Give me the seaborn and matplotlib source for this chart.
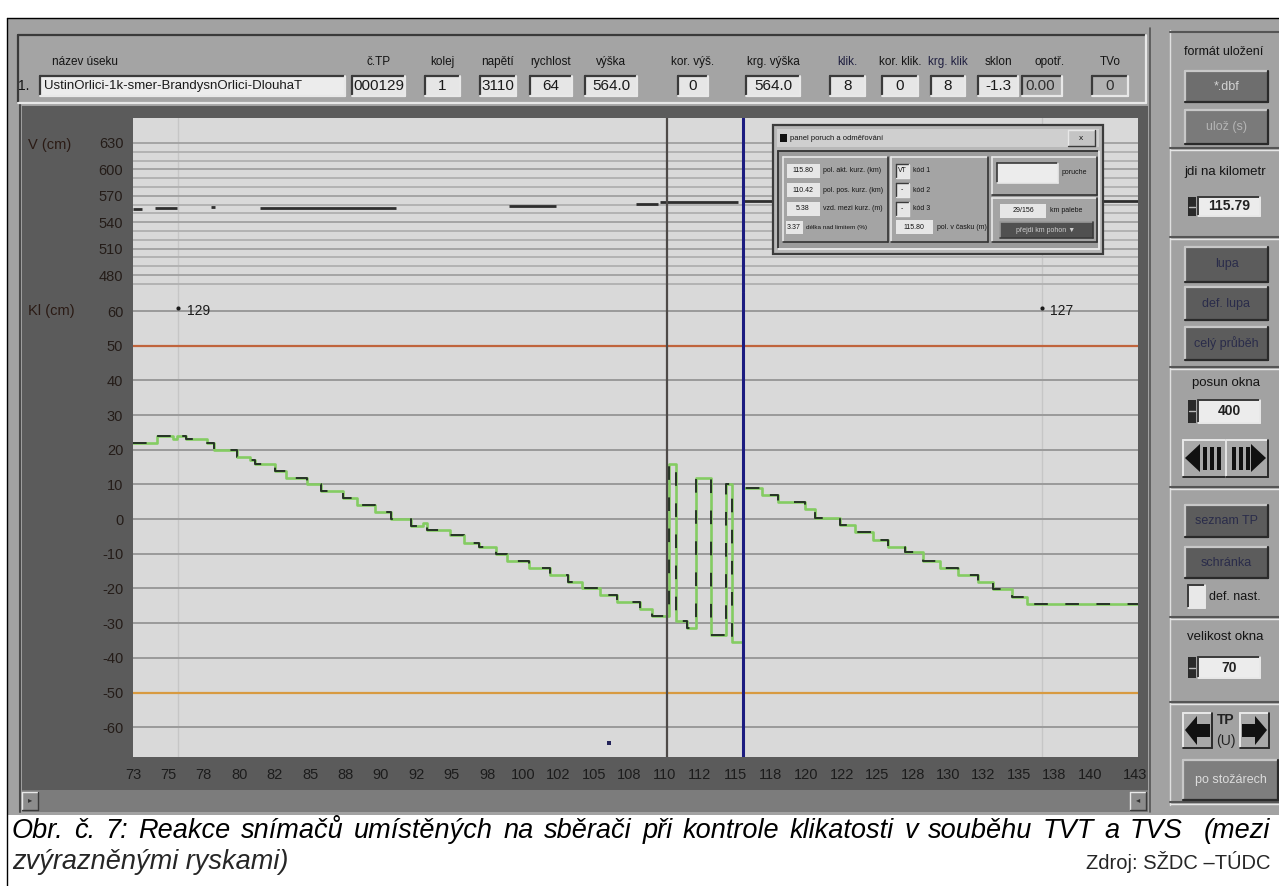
import matplotlib
matplotlib.use("Agg")
import matplotlib.pyplot as plt
import seaborn as sns
from matplotlib import font_manager
from matplotlib.patches import Rectangle, Polygon

# ---------------- hodnoty odečtené ze snímku ----------------
# klikatost Kl (cm), schodovitý průběh: začátek schodu v km
kl_km = [72.5, 74.19, 75.32, 75.61, 76.24, 77.72, 78.22, 79.84, 80.76, 81.11,
         82.52, 83.30, 84.78, 85.77, 87.32, 88.31, 89.58, 90.71, 92.12, 92.97,
         93.25, 94.87, 95.86, 96.92, 98.12, 98.89, 100.45, 101.93, 103.2, 104.19,
         105.46, 106.66, 108.3, 109.13,
         110.33, 110.82, 111.6, 112.23, 113.29, 114.35, 114.77,
         115.5, 116.89, 118.02, 119.92, 120.63, 122.39, 123.45, 124.72, 125.78,
         126.98, 128.25, 129.45, 130.72, 132.13, 133.19, 134.53, 135.59, 143.4]
kl_cm = [22, 24, 23, 24, 23, 22, 20, 18, 17, 16,
         14, 12, 10, 8, 6, 4, 2, 0, -2, -1,
         -3, -4.5, -7, -8, -10, -12, -14, -16, -18, -20,
         -22, -24, -26, -28,
         16, -29.5, -31.5, 12, -33.5, 10, -35.5,
         8.9, 6.9, 4.8, 3.0, 0.3, -1.7, -3.7, -5.9, -7.9,
         -9.6, -12.1, -14.1, -16, -18.2, -20.2, -22.5, -24.5, -24.5]

# výška troleje V (cm), naměřené úseky
v_from = [72.5, 74.05, 78.0, 81.46, 99.03, 108.0, 109.7, 115.55]
v_to = [73.1, 75.6, 78.3, 91.06, 102.35, 109.55, 115.2, 143.4]
v_cm = [555, 556, 557, 556, 558.5, 560.5, 563.5, 564.5]

# trakční podpěry
tp_km = [75.7, 136.6]
tp_kl = [60.8, 60.8]
tp_cislo = ["129", "127"]

bod_km = [106.1]
bod_kl = [-64.6]

kurzor_km = [110.19, 115.5]

v_ticks = [630, 600, 570, 540, 510, 480]
v_grid = [470, 480, 490, 500, 510, 520, 530, 540, 550, 560, 570, 580, 590, 600, 610, 620, 630]
kl_ticks = [60, 50, 40, 30, 20, 10, 0, -10, -20, -30, -40, -50, -60]
km_labels = ["73", "75", "78", "80", "82", "85", "88", "90", "92", "95", "98", "100",
             "102", "105", "108", "110", "112", "115", "118", "120", "122", "125",
             "128", "130", "132", "135", "138", "140", "143"]

hlav_popis = ["č.TP", "kolej", "napětí", "rychlost", "výška", "kor. výš.", "krg. výška",
              "klik.", "kor. klik.", "krg. klik", "sklon", "opotř.", "TVo"]
hlav_hodnota = ["000129", "1", "3110", "64", "564.0", "0", "564.0", "8", "0", "8",
                "-1.3", "0.00", "0"]
nazev_useku = "UstinOrlici-1k-smer-BrandysnOrlici-DlouhaT"

# ---------------- vzhled ----------------
W, H = 1279, 886
sns.set_style("white")
names = {f.name for f in font_manager.fontManager.ttflist}
NARROW = "Liberation Sans Narrow" if "Liberation Sans Narrow" in names else "Liberation Sans"
plt.rcParams["font.family"] = [NARROW, "DejaVu Sans"]
plt.rcParams["axes.unicode_minus"] = False

fig = plt.figure(figsize=(W / 100, H / 100), dpi=100)
fig.patch.set_facecolor("white")


def fx(x):
    return x / W


def fy(y):
    return 1 - y / H


def rect(x0, y0, x1, y1, fc, ec="none", lw=0.0, z=-5):
    p = Rectangle((fx(x0), fy(y1)), (x1 - x0) / W, (y1 - y0) / H,
                  transform=fig.transFigure, facecolor=fc, edgecolor=ec,
                  linewidth=lw, zorder=z)
    fig.add_artist(p)


def line(x0, y0, x1, y1, c, lw=1.0, z=-4):
    fig.add_artist(plt.Line2D([fx(x0), fx(x1)], [fy(y0), fy(y1)],
                              transform=fig.transFigure, color=c, lw=lw, zorder=z))


def bevel(x0, y0, x1, y1, fc, sunken=True, z=-4, lw=1.4,
          dark="#3a3a3a", light="#e8e8e8"):
    rect(x0, y0, x1, y1, fc, z=z)
    a, b = (dark, light) if sunken else (light, dark)
    line(x0, y0, x1, y0, a, lw, z + 0.1)
    line(x0, y0, x0, y1, a, lw, z + 0.1)
    line(x0, y1, x1, y1, b, lw, z + 0.1)
    line(x1, y0, x1, y1, b, lw, z + 0.1)


def label(x, y, s, size=8.5, color="#141414", ha="center", z=-3, **kw):
    return fig.text(fx(x), fy(y), s, fontsize=size, color=color, ha=ha,
                    va="center", zorder=z, **kw)


def poly(pts, fc, z=-3):
    fig.add_artist(Polygon([(fx(a), fy(b)) for a, b in pts], closed=True,
                           transform=fig.transFigure, facecolor=fc,
                           edgecolor="none", zorder=z))


# ---- podklad okna ----
rect(8, 18, 1279, 815, "#a2a2a2", z=-6)
line(7, 18, 7, 886, "black", 1.0)
line(7, 18, 1279, 18, "black", 1.0)

# hlavička
bevel(18, 35, 1146, 103, "#a4a4a4", sunken=True, lw=1.6)
label(52, 62, "název úseku", ha="left")
label(24, 86, "1.", size=10)
bevel(40, 76, 345, 96, "#ececec", lw=1.6)
label(44, 86, nazev_useku, size=9.5, ha="left", color="#1a1a1a")
box_x0 = [352, 425, 480, 530, 585, 678, 746, 830, 882, 931, 978, 1022, 1092]
box_x1 = [405, 460, 516, 572, 637, 708, 800, 865, 918, 965, 1018, 1062, 1128]
for i, (p, v) in enumerate(zip(hlav_popis, hlav_hodnota)):
    x0, x1 = box_x0[i], box_x1[i]
    col = "#202040" if p in ("klik.", "krg. klik") else "#141414"
    lx = x0 + 28 if p == "opotř." else (x0 + x1) / 2
    label(lx, 62, p, color=col)
    if p in ("opotř.", "TVo"):
        bevel(x0, 76, x1, 96, "#b2b2b2", lw=1.6)
        label(x0 + 3 if p == "opotř." else (x0 + x1) / 2, 86, v, size=11,
              ha="left" if p == "opotř." else "center", color="#303030")
    else:
        bevel(x0, 76, x1, 96, "#e6e6e6", lw=1.6)
        label((x0 + x1) / 2, 86, v, size=11, color="#1a1a1a")

# tmavý rám grafu + posuvník
line(20, 104, 20, 812, "#4a4a4a", 1.5)
rect(22, 106, 1148, 790, "#5b5b5b")
rect(22, 790, 1148, 812, "#7c7c7c")
bevel(22, 792, 38, 810, "#8c8c8c", sunken=False, lw=1)
bevel(1130, 792, 1146, 810, "#8c8c8c", sunken=False, lw=1)
label(30, 801, "▸", size=6, color="#333")
label(1138, 801, "◂", size=6, color="#333")
label(28, 145, "V (cm)", size=10.5, ha="left", color="#2a1a14")
label(28, 311, "Kl (cm)", size=10.5, ha="left", color="#2a1a14")

# pravý panel
line(1150, 28, 1150, 812, "#555", 1.2)
line(1170, 30, 1170, 805, "#e0e0e0", 1.0)
for ys in [148, 237, 367, 487, 617, 702, 802]:
    line(1170, ys, 1279, ys, "#555", 1.5)
    line(1170, ys + 2, 1279, ys + 2, "#e6e6e6", 1.0)
line(1170, 32, 1279, 32, "#555", 1.5)
label(1224, 52, "formát uložení", size=9)


def button(y0, y1, s, fc, tc, size=9, x0=1185, x1=1268):
    bevel(x0, y0, x1, y1, fc, sunken=False, lw=1.6, light="#c8c8c8", dark="#2a2a2a")
    label((x0 + x1) / 2, (y0 + y1) / 2, s, size=size, color=tc)


def spinner(y0, y1, s):
    rect(1188, y0, 1196, y1, "#2a2a2a", z=-4)
    line(1189, (y0 + y1) / 2, 1195, (y0 + y1) / 2, "#bbb", 1)
    bevel(1198, y0, 1260, y1, "#ececec", lw=1.4)
    label(1229, (y0 + y1) / 2, s, size=10, color="#222", weight="bold")


button(71, 102, "*.dbf", "#6e6e6e", "#d4d4d4")
button(110, 144, "ulož (s)", "#7a7a7a", "#b4b4b4")
label(1225, 172, "jdi na kilometr", size=9.5)
spinner(197, 216, "115.79")
button(247, 282, "lupa", "#5c5c5c", "#2a2c4a")
button(287, 320, "def. lupa", "#5c5c5c", "#2a2c4a")
button(327, 360, "celý průběh", "#5c5c5c", "#2a2c4a")
label(1226, 383, "posun okna", size=9.5)
spinner(400, 423, "400")
# tlačítka posunu
bevel(1183, 440, 1226, 477, "#a8a8a8", sunken=False, lw=1.4, dark="#2a2a2a")
bevel(1226, 440, 1268, 477, "#a8a8a8", sunken=False, lw=1.4, dark="#2a2a2a")
poly([(1185, 458), (1200, 444), (1200, 472)], "#111")
poly([(1266, 458), (1251, 444), (1251, 472)], "#111")
for bx in [1203, 1210, 1217, 1232, 1239, 1246]:
    rect(bx, 447, bx + 4, 470, "#111", z=-3)
button(505, 537, "seznam TP", "#5c5c5c", "#2a2c4a")
button(547, 578, "schránka", "#5c5c5c", "#2a2c4a")
bevel(1188, 585, 1205, 608, "#e8e8e8", lw=1.4)
label(1209, 597, "def. nast.", size=9, ha="left")
label(1225, 637, "velikost okna", size=9.5)
spinner(657, 678, "70")
bevel(1183, 713, 1212, 748, "#a8a8a8", sunken=False, lw=1.4, dark="#2a2a2a")
bevel(1240, 713, 1269, 748, "#a8a8a8", sunken=False, lw=1.4, dark="#2a2a2a")
poly([(1185, 730), (1197, 716), (1197, 724), (1210, 724), (1210, 737), (1197, 737), (1197, 745)], "#111")
poly([(1267, 730), (1255, 716), (1255, 724), (1242, 724), (1242, 737), (1255, 737), (1255, 745)], "#111")
label(1226, 720, "TP", size=10, weight="bold", color="#222")
label(1226, 741, "(U)", size=10, color="#222")
button(760, 800, "po stožárech", "#7e7e7e", "#dcdcdc", x0=1183, x1=1278)

# ---------------- graf ----------------
ax_v = fig.add_axes([fx(133), fy(292), (1138 - 133) / W, (292 - 118) / H])
ax_k = fig.add_axes([fx(133), fy(757), (1138 - 133) / W, (757 - 292) / H], sharex=ax_v)
for ax in (ax_v, ax_k):
    ax.set_facecolor("#d9d9d9")
    for s in ax.spines.values():
        s.set_visible(False)
    ax.tick_params(axis="y", direction="out", length=6, width=1.2, color="#1e1e1e",
                   labelsize=10.5, labelcolor="#241c18", pad=1)
    for k in tp_km:
        ax.axvline(k, color="#c6c6c6", lw=1, zorder=1)

ax_v.set_xlim(72.5, 143.4)
ax_v.set_ylim(460.7, 658.4)
ax_k.set_ylim(-68.6, 65.5)

for v in v_grid:
    ax_v.axhline(v, color="#a0a0a0" if v in v_ticks else "#b0b0b0", lw=1.3, zorder=1)
ax_v.set_yticks(v_ticks, [str(t) for t in v_ticks])
ax_v.tick_params(axis="x", bottom=False, labelbottom=False)
ax_v.hlines(v_cm, v_from, v_to, color="#2e2e2e", lw=2.0, zorder=3)

for t in kl_ticks:
    if t == 50:
        ax_k.axhline(t, color="#c0643c", lw=1.6, zorder=1)
    elif t == -50:
        ax_k.axhline(t, color="#d89a40", lw=1.6, zorder=1)
    else:
        ax_k.axhline(t, color="#9a9a9a", lw=1.4, zorder=1)
ax_k.set_yticks(kl_ticks, [str(t) for t in kl_ticks])

km_pos = [72.5 + 2.5 * i for i in range(len(km_labels) - 1)] + [143.2]
ax_k.set_xticks(km_pos, km_labels)
ax_k.tick_params(axis="x", direction="out", length=6, width=1.2, color="#1e1e1e",
                 labelsize=10.5, labelcolor="#1c1c1c", pad=2)

# dva snímače - zelený a tmavý průběh přes sebe
sns.lineplot(x=kl_km, y=kl_cm, ax=ax_k, color="#84cc62", linewidth=1.9,
             drawstyle="steps-post", estimator=None, sort=False, legend=False, zorder=3)
sns.lineplot(x=kl_km, y=kl_cm, ax=ax_k, color="#263226", linewidth=1.4,
             drawstyle="steps-post", estimator=None, sort=False, legend=False,
             linestyle=(0, (7, 9)), zorder=4)

sns.scatterplot(x=tp_km, y=tp_kl, ax=ax_k, color="#1c1c1c", s=9, linewidth=0, zorder=5)
for k, y, s in zip(tp_km, tp_kl, tp_cislo):
    ax_k.annotate(s, (k, y), xytext=(6, -2), textcoords="offset points",
                  fontsize=10, color="#1c1c1c", va="center")
sns.scatterplot(x=bod_km, y=bod_kl, ax=ax_k, color="#24245a", s=9, marker="s",
                linewidth=0, zorder=5)

for ax in (ax_v, ax_k):
    ax.axvline(kurzor_km[0], color="#4e4a48", lw=1.6, zorder=6)
    ax.axvline(kurzor_km[1], color="#1c1c80", lw=2.2, zorder=6)
    ax.set_xlabel("")
    ax.set_ylabel("")

# ---------------- panel poruch (okno přes graf) ----------------
Z = 10
rect(773, 125, 1103, 254, "#b8b8b8", ec="#3c3c3c", lw=1.6, z=Z)
rect(777, 129, 1099, 147, "#cfcfcf", z=Z + 0.1)
rect(780, 134, 787, 142, "#111", z=Z + 0.2)
label(790, 138, "panel poruch a odměřování", size=5.5, ha="left", z=Z + 1)
bevel(1068, 130, 1095, 146, "#c4c4c4", sunken=False, z=Z + 0.2, lw=1)
label(1081, 138, "x", size=6, z=Z + 1)
bevel(778, 151, 1099, 249, "#9c9c9c", z=Z + 0.2, lw=1.4)
bevel(783, 157, 888, 242, "#a4a4a4", sunken=False, z=Z + 0.3, lw=1.2, dark="#333")
bevel(891, 157, 988, 242, "#a4a4a4", sunken=False, z=Z + 0.3, lw=1.2, dark="#333")
bevel(992, 157, 1097, 195, "#a4a4a4", sunken=False, z=Z + 0.3, lw=1.2, dark="#333")
bevel(992, 198, 1097, 242, "#a4a4a4", sunken=False, z=Z + 0.3, lw=1.2, dark="#333")
rows = [("115.80", "pol. akt. kurz. (km)"), ("110.42", "pol. pos. kurz. (km)"),
        ("5.38", "vzd. mezi kurz. (m)")]
for j, (val, txt) in enumerate(rows):
    yc = 171 + j * 19
    rect(787, yc - 7, 820, yc + 7, "#e6e6e6", z=Z + 0.5)
    label(803, yc, val, size=5, z=Z + 1)
    label(823, yc, txt, size=5, ha="left", z=Z + 1)
rect(786, 221, 803, 234, "#e6e6e6", z=Z + 0.5)
label(794, 227, "3.37", size=5, z=Z + 1)
label(806, 227, "délka nad limitem (%)", size=4.6, ha="left", z=Z + 1)
for j, (val, txt) in enumerate([("VT", "kód 1"), ("-", "kód 2"), ("-", "kód 3")]):
    yc = 171 + j * 19
    bevel(896, yc - 7, 909, yc + 7, "#e6e6e6", z=Z + 0.5, lw=1)
    label(902, yc, val, size=5, z=Z + 1)
    label(913, yc, txt, size=5, ha="left", z=Z + 1)
rect(896, 220, 933, 234, "#e6e6e6", z=Z + 0.5)
label(914, 227, "115.80", size=5, z=Z + 1)
label(937, 227, "pol. v časku (m)", size=5, ha="left", z=Z + 1)
bevel(997, 163, 1058, 183, "#ececec", z=Z + 0.5, lw=1.2)
label(1062, 173, "poruche", size=5, ha="left", z=Z + 1)
rect(1000, 204, 1046, 218, "#e6e6e6", z=Z + 0.5)
label(1023, 211, "29/156", size=5, z=Z + 1)
label(1050, 211, "km palebe", size=5, ha="left", z=Z + 1)
bevel(1000, 222, 1093, 238, "#505050", sunken=False, z=Z + 0.5, lw=1.2, light="#999")
label(1046, 230, "přejdi km pohon ▼", size=5, color="#cfcfcf", z=Z + 1)

# ---------------- popisek obrázku ----------------
CAP = ["Liberation Sans", "DejaVu Sans"]
slova = ["Obr.", "č.", "7:", "Reakce", "snímačů", "umístěných", "na", "sběrači", "při",
         "kontrole", "klikatosti", "v", "souběhu", "TVT", "a", "TVS", "(mezi"]
objs = [fig.text(0, fy(831), w, fontsize=19.5, style="italic", family=CAP,
                 va="center", color="black") for w in slova]
renderer = fig.canvas.get_renderer()
sirky = [o.get_window_extent(renderer).width for o in objs]
vahy = [1] * (len(slova) - 2) + [2, 0]
mezera = (1270 - 12 - sum(sirky)) / sum(vahy)
x = 12
for o, s, g in zip(objs, sirky, vahy):
    o.set_x(fx(x))
    x += s + mezera * g
fig.text(fx(12), fy(862), "zvýrazněnými ryskami)", fontsize=19.5, style="italic",
         family=CAP, va="center")
fig.text(fx(1271), fy(862), "Zdroj: SŽDC –TÚDC", fontsize=14.5, family=CAP,
         va="center", ha="right")

fig.savefig("out.png", dpi=100)
